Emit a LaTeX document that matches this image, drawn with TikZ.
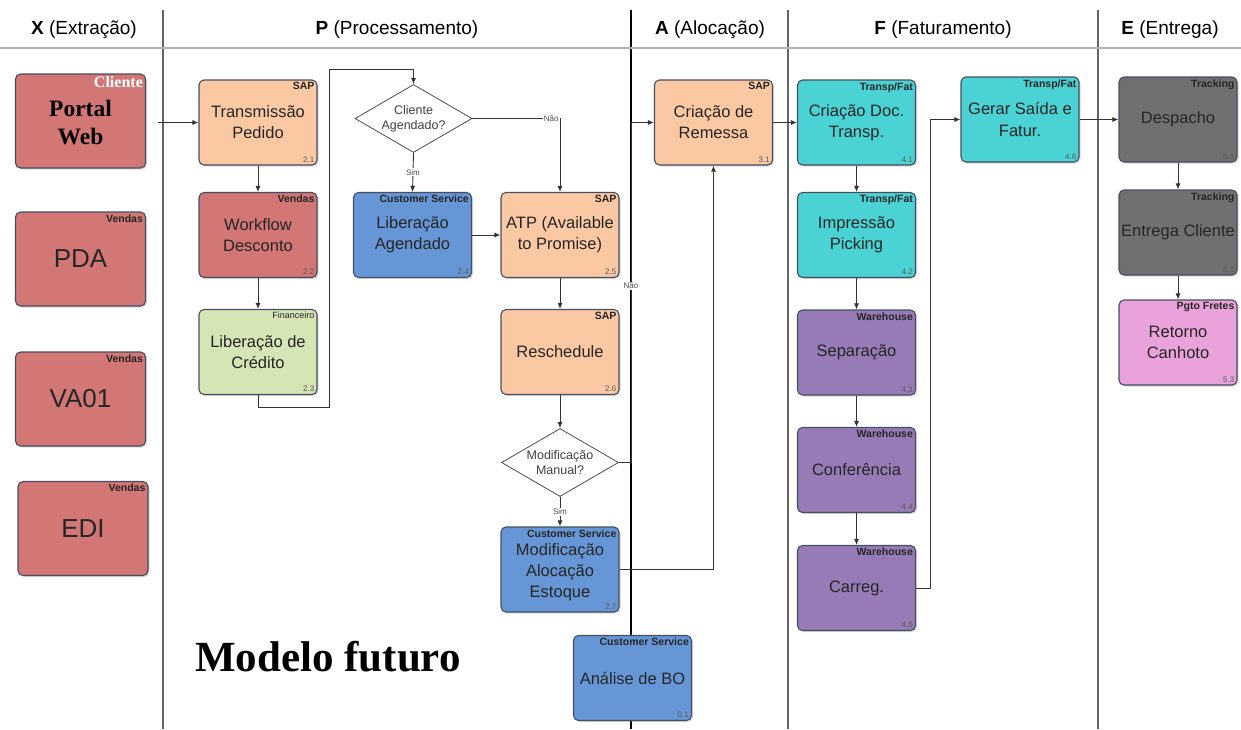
\documentclass[tikz,border=0pt]{standalone}
\usepackage{fontspec}
\setmainfont{Liberation Sans}
\newfontfamily\timesfont{Liberation Serif}
\usetikzlibrary{shapes.geometric, arrows.meta, shadows}

\definecolor{srcfill}{RGB}{210,118,118}
\definecolor{sapfill}{RGB}{250,201,163}
\definecolor{finfill}{RGB}{214,229,182}
\definecolor{csfill}{RGB}{102,150,214}
\definecolor{tfill}{RGB}{74,210,212}
\definecolor{whfill}{RGB}{151,123,182}
\definecolor{trkfill}{RGB}{112,112,114}
\definecolor{pgfill}{RGB}{233,162,218}
\definecolor{boxline}{RGB}{70,78,98}

\tikzset{
  lane/.style={draw=gray!80!black, line width=1.1pt},
  lanehead/.style={font=\fontsize{19}{23}\selectfont},
  task/.style={draw=boxline, line width=1.1pt, rounded corners=5pt,
    minimum width=118pt, minimum height=85pt, inner sep=2pt, align=center,
    font=\fontsize{16.5}{21}\selectfont, text=black!85,
    drop shadow={opacity=0.3, shadow xshift=1.5pt, shadow yshift=-1.5pt}},
  source/.style={task, fill=srcfill, minimum width=130pt, minimum height=94pt,
    font=\fontsize{26}{30}\selectfont},
  tag/.style={anchor=north east, inner sep=3pt, text=black!85,
    font=\bfseries\fontsize{10.5}{12}\selectfont},
  num/.style={anchor=south east, inner sep=3pt, text=black!65,
    font=\fontsize{8}{9}\selectfont},
  decision/.style={diamond, draw=black!70, line width=0.8pt, fill=white,
    aspect=1.75, minimum width=117pt, minimum height=68pt, inner sep=-3pt,
    align=center, font=\fontsize{12.5}{15}\selectfont, text=black!75},
  flow/.style={-{Latex[length=6pt,width=5pt]}, line width=0.9pt, draw=black!80},
  answer/.style={fill=white, inner sep=1pt, text=black!70,
    font=\fontsize{8}{9}\selectfont},
}

\begin{document}
\begin{tikzpicture}[x=1pt, y=-1pt]
    \useasboundingbox (0,0) rectangle (1241,729);

    % Draw the lanes
    \draw[lane] (163,10) -- (163,729);
    \draw[lane, draw=black, line width=1.8pt] (631,10) -- (631,729);
    \draw[lane] (788,10) -- (788,729);
    \draw[lane] (1098,10) -- (1098,729);
    \draw[gray!60, line width=2.5pt] (0,48) -- (1241,48);

    % Lane titles
    \node[lanehead] (hx) at (84,30) {\textbf{X} (Extração)};
    \node[lanehead] (hp) at (397,30) {\textbf{P} (Processamento)};
    \node[lanehead] (ha) at (710,30) {\textbf{A} (Alocação)};
    \node[lanehead] (hf) at (943,30) {\textbf{F} (Faturamento)};
    \node[lanehead] (he) at (1170,30) {\textbf{E} (Entrega)};

    % Draw the sources
    \node[source, text=black, font=\timesfont\bfseries\fontsize{23.5}{28}\selectfont,
      label={[tag, text=white, font=\timesfont\bfseries\fontsize{16}{18}\selectfont]north east:Cliente}]
      (portal) at (80.5,121) {\\[-8pt]Portal\\Web};
    \node[source, label={[tag]north east:Vendas}] (pda) at (80.5,259) {PDA};
    \node[source, label={[tag]north east:Vendas}] (va01) at (80.5,399) {VA01};
    \node[source, label={[tag]north east:Vendas}] (edi) at (83,528.5) {EDI};

    % Draw the processing steps
    \node[task, fill=sapfill, label={[tag]north east:SAP}, label={[num]south east:2.1}] (t21) at (258,122.5) {Transmissão\\Pedido};
    \node[task, fill=srcfill, label={[tag]north east:Vendas}, label={[num]south east:2.2}] (t22) at (258,235) {Workflow\\Desconto};
    \node[task, fill=finfill, label={[tag, font=\fontsize{9}{10}\selectfont]north east:Financeiro}, label={[num]south east:2.3}] (t23) at (258,352) {Liberação de\\Crédito};
    \node[decision] (d1) at (413.5,118.5) {Cliente\\Agendado?};
    \node[task, fill=csfill, label={[tag]north east:Customer Service}, label={[num]south east:2.4}] (t24) at (412.5,235) {Liberação\\Agendado};
    \node[task, fill=sapfill, label={[tag]north east:SAP}, label={[num]south east:2.5}] (t25) at (560,235) {ATP (Available\\to Promise)};
    \node[task, fill=sapfill, label={[tag]north east:SAP}, label={[num]south east:2.6}] (t26) at (560,352) {Reschedule};
    \node[decision] (d2) at (560,462.5) {Modificação\\Manual?};
    \node[task, fill=csfill, label={[tag]north east:Customer Service}, label={[num]south east:2.7}] (t27) at (560,569.5) {\\[-4pt]Modificação\\Alocação\\Estoque};
    \node[task, fill=csfill, label={[tag]north east:Customer Service}, label={[num]south east:0.1}] (t01) at (632.5,678) {Análise de BO};

    % Draw the allocation and billing steps
    \node[task, fill=sapfill, label={[tag]north east:SAP}, label={[num]south east:3.1}] (t31) at (713.5,122.5) {Criação de\\Remessa};
    \node[task, fill=tfill, label={[tag]north east:Transp/Fat}, label={[num]south east:4.1}] (t41) at (856.5,122.5) {Criação Doc.\\Transp.};
    \node[task, fill=tfill, label={[tag]north east:Transp/Fat}, label={[num]south east:4.2}] (t42) at (856.5,235) {Impressão\\Picking};
    \node[task, fill=whfill, label={[tag]north east:Warehouse}, label={[num]south east:4.3}] (t43) at (856.5,352.5) {Separação};
    \node[task, fill=whfill, label={[tag]north east:Warehouse}, label={[num]south east:4.4}] (t44) at (856.5,470) {Conferência};
    \node[task, fill=whfill, label={[tag]north east:Warehouse}, label={[num]south east:4.5}] (t45) at (856.5,588) {Carreg.};
    \node[task, fill=tfill, label={[tag]north east:Transp/Fat}, label={[num]south east:4.6}] (t46) at (1020,119.5) {Gerar Saída e\\Fatur.};

    % Draw the delivery steps
    \node[task, fill=trkfill, label={[tag]north east:Tracking}, label={[num]south east:5.1}] (t51) at (1178,119.5) {Despacho};
    \node[task, fill=trkfill, label={[tag]north east:Tracking}, label={[num]south east:5.2}] (t52) at (1178,232.5) {Entrega Cliente};
    \node[task, fill=pgfill, label={[tag]north east:Pgto Fretes}, label={[num]south east:5.3}] (t53) at (1178,342.5) {Retorno\\Canhoto};

    % Draw connections
    \coordinate (xin) at (158,122.5);
    \coordinate (c1) at (329,407);
    \coordinate (c2) at (413.5,69);
    \coordinate (nao) at (631,122.5);
    \coordinate (fat) at (930,119.5);
    \draw[flow] (xin) -- (t21.west);
    \draw[flow] (t21) -- (t22);
    \draw[flow] (t22) -- (t23);
    \draw[flow] (t23.south) |- (c1) |- (c2) -- (d1.north);
    \draw[flow] (d1.east) -| node[answer, pos=0.45] {Não} (t25.north);
    \draw[flow] (d1.south) -- node[answer] {Sim} (t24.north);
    \draw[flow] (t24) -- (t25);
    \draw[flow] (t25) -- (t26);
    \draw[flow] (t26) -- (d2);
    \draw[flow] (d2) -- node[answer] {Sim} (t27);
    \draw[flow] (d2.east) -| node[answer, pos=0.76] {Não} (nao) -- (t31.west);
    \draw[flow] (t27.east) -| (t31.south);
    \draw[flow] (t31) -- (t41);
    \draw[flow] (t41) -- (t42);
    \draw[flow] (t42) -- (t43);
    \draw[flow] (t43) -- (t44);
    \draw[flow] (t44) -- (t45);
    \draw[flow] (t45.east) -| (fat) -- (t46.west);
    \draw[flow] (t46) -- (t51);
    \draw[flow] (t51) -- (t52);
    \draw[flow] (t52) -- (t53);

    % Title
    \node[font=\timesfont\bfseries\fontsize{43}{48}\selectfont] (modelo) at (328,657) {Modelo futuro};

\end{tikzpicture}
\end{document}
